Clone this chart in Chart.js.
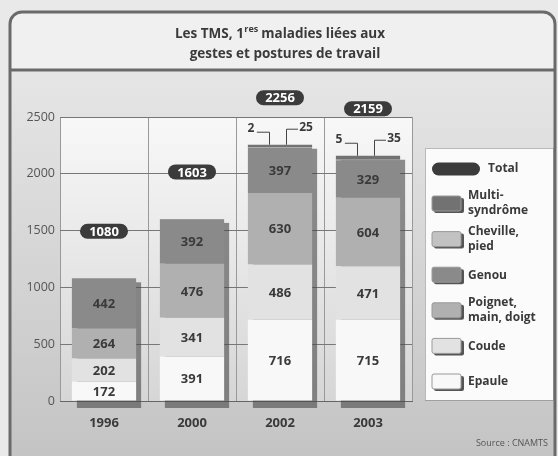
<!DOCTYPE html>
<html lang="fr">
<head>
<meta charset="utf-8">
<title>Les TMS</title>
<script src="https://cdn.jsdelivr.net/npm/chart.js@4.4.0/dist/chart.umd.min.js"></script>
<style>
  html, body { margin: 0; padding: 0; background: #e8e8e8; }
  canvas { display: block; }
</style>
</head>
<body>
<canvas id="tms" width="558" height="456"></canvas>
<script>
// données (nombre de maladies reconnues)
const annees = ['1996', '2000', '2002', '2003'];
const epaule = [172, 391, 716, 715];
const coude = [202, 341, 486, 471];
const poignet = [264, 476, 630, 604];
const genou = [442, 392, 397, 329];
const cheville = [0, 0, 2, 5];
const multi = [0, 3, 25, 35];
const totaux = [1080, 1603, 2256, 2159];
const graduations = [0, 500, 1000, 1500, 2000, 2500];

const police = '"Open Sans", "Noto Sans", "DejaVu Sans", sans-serif';
const encre = '#3a3a3a';

// du bas vers le haut de la pile
const series = [
  { nom: 'Epaule', lignes: ['Epaule'], data: epaule, couleur: '#f8f8f8' },
  { nom: 'Coude', lignes: ['Coude'], data: coude, couleur: '#e2e2e2' },
  { nom: 'Poignet, main, doigt', lignes: ['Poignet,', 'main, doigt'], data: poignet, couleur: '#b0b0b0' },
  { nom: 'Genou', lignes: ['Genou'], data: genou, couleur: '#8a8a8a' },
  { nom: 'Cheville, pied', lignes: ['Cheville,', 'pied'], data: cheville, couleur: '#c2c2c2' },
  { nom: 'Multi-syndrôme', lignes: ['Multi-', 'syndrôme'], data: multi, couleur: '#727272' }
];

function pilule(ctx, cx, cy, w, h, texte) {
  ctx.save();
  ctx.fillStyle = '#3b3b3b';
  ctx.beginPath();
  ctx.roundRect(cx - w / 2, cy - h / 2, w, h, h / 2);
  ctx.fill();
  if (texte) {
    ctx.fillStyle = '#fff';
    ctx.font = 'bold 13px ' + police;
    ctx.textAlign = 'center';
    ctx.textBaseline = 'middle';
    ctx.fillText(texte, cx, cy + 1);
  }
  ctx.restore();
}

const decor = {
  id: 'decor',
  beforeDraw(chart) {
    const ctx = chart.ctx;
    const a = chart.chartArea;
    ctx.save();
    ctx.fillStyle = '#e9e9e9';
    ctx.fillRect(0, 0, chart.width, chart.height);

    // panneau du bas
    let g = ctx.createLinearGradient(0, 70, 0, 456);
    g.addColorStop(0, '#e6e6e6');
    g.addColorStop(1, '#c4c4c4');
    ctx.beginPath();
    ctx.roundRect(10, 12, 545, 470, 12);
    ctx.fillStyle = g;
    ctx.fill();
    // bandeau du titre
    ctx.save();
    ctx.clip();
    ctx.fillStyle = '#f0f0f0';
    ctx.fillRect(10, 12, 545, 58);
    ctx.restore();
    ctx.lineWidth = 3;
    ctx.strokeStyle = '#6a6a6a';
    ctx.stroke();
    ctx.beginPath();
    ctx.moveTo(10, 70);
    ctx.lineTo(555, 70);
    ctx.stroke();

    // fond du graphique
    g = ctx.createLinearGradient(0, a.top, 0, a.bottom);
    g.addColorStop(0, '#f8f8f8');
    g.addColorStop(1, '#d6d6d6');
    ctx.fillStyle = g;
    ctx.fillRect(a.left, a.top, a.right - a.left, a.bottom - a.top);

    // titre
    ctx.fillStyle = encre;
    ctx.textBaseline = 'alphabetic';
    const f1 = 'bold 13.5px ' + police;
    const f2 = 'bold 9px ' + police;
    ctx.font = f1;
    const p1 = 'Les TMS, 1', p3 = ' maladies liées aux';
    const w1 = ctx.measureText(p1).width, w3 = ctx.measureText(p3).width;
    ctx.font = f2;
    const w2 = ctx.measureText('res').width;
    let x = 280 - (w1 + w2 + w3) / 2;
    ctx.font = f1;
    ctx.textAlign = 'left';
    ctx.fillText(p1, x, 38);
    ctx.font = f2;
    ctx.fillText('res', x + w1 + 0.5, 32);
    ctx.font = f1;
    ctx.fillText(p3, x + w1 + w2, 38);
    ctx.textAlign = 'center';
    ctx.fillText('gestes et postures de travail', 285, 58);
    ctx.restore();
  },
  beforeDatasetsDraw(chart) {
    // ombre portée des barres
    const ctx = chart.ctx;
    const ys = chart.scales.y;
    const meta = chart.getDatasetMeta(0);
    ctx.save();
    ctx.fillStyle = 'rgba(70,70,70,0.6)';
    totaux.forEach((t, j) => {
      const el = meta.data[j];
      const haut = ys.getPixelForValue(t);
      ctx.fillRect(el.x - el.width / 2 + 5, haut + 4, el.width, ys.getPixelForValue(0) - haut + 3);
    });
    ctx.restore();
  },
  afterDatasetsDraw(chart) {
    const ctx = chart.ctx;
    const ys = chart.scales.y;
    ctx.save();
    ctx.font = 'bold 13px ' + police;
    ctx.fillStyle = encre;
    ctx.textAlign = 'center';
    ctx.textBaseline = 'middle';
    series.forEach((s, i) => {
      chart.getDatasetMeta(i).data.forEach((el, j) => {
        if (s.data[j] >= 100) ctx.fillText(String(s.data[j]), el.x, (el.y + el.base) / 2 + 1);
      });
    });

    // petites valeurs avec traits de rappel
    ctx.strokeStyle = '#444';
    ctx.lineWidth = 1;
    ctx.font = 'bold 12px ' + police;
    const m0 = chart.getDatasetMeta(0);
    annees.forEach((an, j) => {
      if (cheville[j] + multi[j] < 10) return;
      const el = m0.data[j];
      const haut = ys.getPixelForValue(totaux[j]);
      const g = el.x - el.width / 2;
      ctx.beginPath();
      ctx.moveTo(g + 9, haut - 12.5);
      ctx.lineTo(el.x - 10.5, haut - 12.5);
      ctx.lineTo(el.x - 10.5, haut);
      ctx.moveTo(el.x + 18, haut - 15.5);
      ctx.lineTo(el.x + 6.5, haut - 15.5);
      ctx.lineTo(el.x + 6.5, haut);
      ctx.stroke();
      ctx.fillText(String(cheville[j]), g + 3, haut - 16);
      ctx.fillText(String(multi[j]), el.x + 26, haut - 17);
    });

    // totaux
    totaux.forEach((t, j) => {
      const el = m0.data[j];
      pilule(ctx, el.x, ys.getPixelForValue(t) - 47, 48, 15, String(t));
    });
    ctx.restore();
  },
  afterDraw(chart) {
    const ctx = chart.ctx;
    ctx.save();
    // légende
    ctx.fillStyle = '#fbfbfb';
    ctx.fillRect(425, 148, 128, 252);
    ctx.strokeStyle = '#777';
    ctx.lineWidth = 1;
    ctx.setLineDash([1, 1]);
    ctx.strokeRect(425.5, 148.5, 128, 252);
    ctx.setLineDash([]);

    ctx.font = 'bold 12px ' + police;
    ctx.fillStyle = encre;
    ctx.textAlign = 'left';
    ctx.textBaseline = 'middle';
    pilule(ctx, 456, 169, 48, 13, '');
    ctx.fillStyle = encre;
    ctx.fillText('Total', 488, 169);

    series.slice().reverse().forEach((s, k) => {
      const cy = 204 + k * 35.6;
      ctx.fillStyle = '#555';
      ctx.beginPath();
      ctx.roundRect(434, cy - 6, 30, 15, 2);
      ctx.fill();
      ctx.fillStyle = s.couleur;
      ctx.strokeStyle = '#999';
      ctx.beginPath();
      ctx.roundRect(432, cy - 8, 29, 15, 2);
      ctx.fill();
      ctx.stroke();
      ctx.fillStyle = encre;
      if (s.lignes.length === 1) {
        ctx.fillText(s.lignes[0], 468, cy);
      } else {
        ctx.fillText(s.lignes[0], 468, cy - 8);
        ctx.fillText(s.lignes[1], 468, cy + 7);
      }
    });

    ctx.font = '9px ' + police;
    ctx.textAlign = 'right';
    ctx.fillStyle = '#555';
    ctx.fillText('Source : CNAMTS', 548, 443);
    ctx.restore();
  }
};

new Chart(document.getElementById('tms'), {
  type: 'bar',
  data: {
    labels: annees,
    datasets: series.map(s => ({
      label: s.nom,
      data: s.data,
      backgroundColor: s.couleur,
      borderWidth: 0,
      categoryPercentage: 1,
      barPercentage: 0.73
    }))
  },
  options: {
    responsive: false,
    animation: false,
    layout: { padding: { left: 0, top: 117, right: 146, bottom: 0 } },
    plugins: {
      legend: { display: false },
      title: { display: false },
      tooltip: { enabled: false }
    },
    scales: {
      x: {
        stacked: true,
        afterFit: s => { s.height = 55; },
        grid: { offset: true, color: '#999', drawTicks: false, lineWidth: 1 },
        border: { display: true, color: '#666', dash: [] },
        ticks: { padding: 14, color: encre, font: { family: police, size: 13, weight: 'bold' } }
      },
      y: {
        stacked: true,
        min: 0,
        max: 2500,
        afterFit: s => { s.width = 60; },
        afterBuildTicks: s => { s.ticks = graduations.map(v => ({ value: v })); },
        grid: { color: '#777', drawTicks: false },
        border: { display: false },
        ticks: {
          padding: 5,
          color: '#555',
          font: { family: police, size: 12.5 },
          callback: v => String(v)
        }
      }
    }
  },
  plugins: [decor]
});
</script>
</body>
</html>
